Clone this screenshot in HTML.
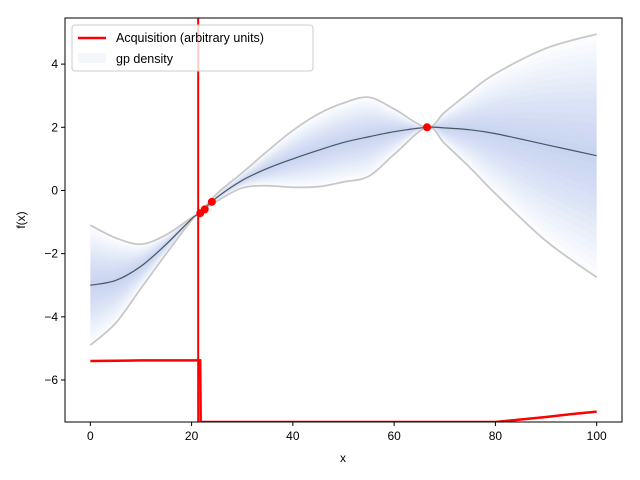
<!DOCTYPE html>
<html><head><meta charset="utf-8"><style>
body{margin:0;background:#fff}
svg{display:block;font-family:"Liberation Sans","DejaVu Sans",sans-serif}
</style></head><body>
<svg id="c" width="640" height="480"></svg>
<script>
const xs=[0,5,10,15,20,21.5,25,30,35,40,45,50,55,60,66.5,70,75,80,90,100];
const meanVals=[-3,-2.85,-2.4,-1.7,-0.9,-0.72,-0.22,0.32,0.7,1.0,1.27,1.52,1.7,1.86,2.0,1.98,1.92,1.8,1.45,1.1];
const sdVals=[1.9,1.35,0.7,0.3,0.04,0,0.12,0.24,0.55,0.9,1.15,1.25,1.25,0.72,0,0.5,1.2,1.9,3.05,3.85];
const acqX=[0,10,21.7,21.8,22,40,60,80,85,90,95,100];
const acqY=[-5.4,-5.38,-5.38,-7.33,-7.33,-7.33,-7.33,-7.33,-7.25,-7.17,-7.08,-7.0];
const obsX=[21.7,22.6,24,66.5];
const obsY=[-0.72,-0.6,-0.36,2.0];
const xTicks=[0,20,40,60,80,100];
const yTicks=[-6,-4,-2,0,2,4];
const L=65,R=622,T=18,B=422,xmin=-5,xmax=105,ymin=-7.33,ymax=5.46;
const X=v=>L+(v-xmin)/(xmax-xmin)*(R-L);
const Y=v=>B-(v-ymin)/(ymax-ymin)*(B-T);
const svg=document.getElementById('c');const NS='http://www.w3.org/2000/svg';
function mk(t,a,p){const e=document.createElementNS(NS,t);for(const k in a)e.setAttribute(k,a[k]);(p||svg).appendChild(e);return e;}
function smooth(pts,start){let d=(start?'M':'L')+pts[0][0]+','+pts[0][1];
 for(let i=0;i<pts.length-1;i++){const p0=pts[Math.max(0,i-1)],p1=pts[i],p2=pts[i+1],p3=pts[Math.min(pts.length-1,i+2)];
  const c1=[p1[0]+(p2[0]-p0[0])/6,p1[1]+(p2[1]-p0[1])/6],c2=[p2[0]-(p3[0]-p1[0])/6,p2[1]-(p3[1]-p1[1])/6];
  d+='C'+c1[0]+','+c1[1]+' '+c2[0]+','+c2[1]+' '+p2[0]+','+p2[1];}
 return d;}
const cp=mk('clipPath',{id:'cp'});mk('rect',{x:L,y:T,width:R-L,height:B-T},cp);
const g=mk('g',{'clip-path':'url(#cp)'});
const N=15;
for(let i=1;i<=N;i++){const k=i/N;
 const up=xs.map((x,j)=>[X(x),Y(meanVals[j]+k*sdVals[j])]);
 const lo=xs.map((x,j)=>[X(x),Y(meanVals[j]-k*sdVals[j])]).reverse();
 const p=mk('path',{d:smooth(up,true)+smooth(lo,false)+'Z',fill:'#7aa3d6','fill-opacity':0.028},g);
 
 
}
function line(arr,col,w,name){const p=mk('path',{d:smooth(xs.map((x,j)=>[X(x),Y(arr[j])]),true),fill:'none',stroke:col,'stroke-width':w},g);
 }
line(meanVals.map((m,j)=>m+sdVals[j]),'#c8c8c8',1.8,'upper-bound');
line(meanVals.map((m,j)=>m-sdVals[j]),'#c8c8c8',1.8,'lower-bound');
line(meanVals,'#4a5560',1.2,'gp-mean');
const vl=mk('line',{x1:X(21.3),x2:X(21.3),y1:T,y2:B,stroke:'red','stroke-width':2},g);

const ac=mk('path',{d:'M'+acqX.map((x,j)=>X(x)+','+Y(acqY[j])).join('L'),fill:'none',stroke:'red','stroke-width':2.5},g);

obsX.forEach((x,j)=>{const c=mk('circle',{cx:X(x),cy:Y(obsY[j]),r:4,fill:'red'},g);
 });
mk('rect',{x:L,y:T,width:R-L,height:B-T,fill:'none',stroke:'#000','stroke-width':1});
xTicks.forEach(v=>{mk('line',{x1:X(v),x2:X(v),y1:B,y2:B+4,stroke:'#000'});
 const t=mk('text',{x:X(v),y:B+18,'font-size':12,'text-anchor':'middle'});t.textContent=v;
 });
yTicks.forEach(v=>{mk('line',{x1:L-4,x2:L,y1:Y(v),y2:Y(v),stroke:'#000'});
 const t=mk('text',{x:L-7,y:Y(v)+4,'font-size':12,'text-anchor':'end'});t.textContent=v<0?'\u2212'+(-v):v;
 });
</script>
<svg style="position:absolute;left:0;top:0" width="640" height="480" font-family="Liberation Sans, DejaVu Sans, sans-serif">
<text x="343" y="462" font-size="12" text-anchor="middle">x</text>
<text x="25" y="220" font-size="12" text-anchor="middle" transform="rotate(-90 25 220)">f(x)</text>
<g>
<rect x="72" y="25" width="241" height="46" rx="3" fill="#fff" fill-opacity="0.8" stroke="#ccc"/>
<line x1="78" y1="38" x2="106" y2="38" stroke="red" stroke-width="2.5"/>
<text x="116" y="42" font-size="12.5">Acquisition (arbitrary units)</text>
<rect x="78" y="53" width="28" height="10" fill="#f3f6fb"/>
<text x="116" y="63" font-size="12.5">gp density</text>
</g>
</svg>
</body></html>
